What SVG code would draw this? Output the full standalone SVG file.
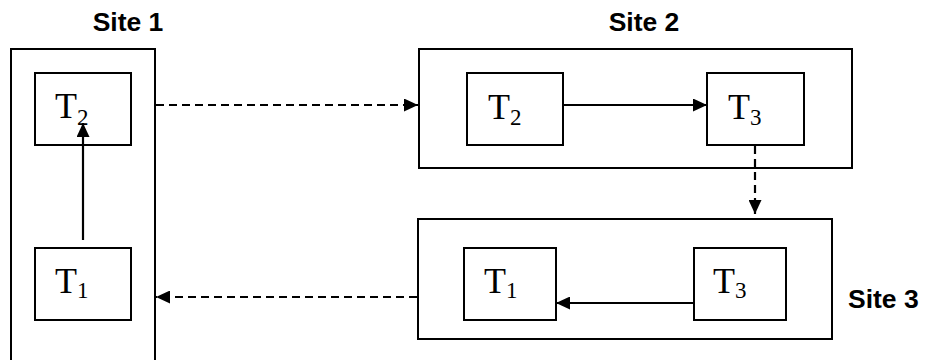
<svg xmlns="http://www.w3.org/2000/svg" width="946" height="360" viewBox="0 0 946 360">
<defs>
<style>
.box{fill:#fff;stroke:#000;stroke-width:2}
.conn{fill:none;stroke:#000;stroke-width:2.2}
.dash{stroke-dasharray:8 5}
.site{font-family:"Liberation Sans",Arial,sans-serif;font-weight:bold;font-size:26.5px;fill:#000}
.t{font-family:"Liberation Serif","Times New Roman",serif;font-size:36px;fill:#000}
.sub{font-size:23px}
</style>
<marker id="ah" viewBox="0 0 14 13" refX="14" refY="6.5" markerWidth="14" markerHeight="13" markerUnits="userSpaceOnUse" orient="auto">
<path d="M0,0 L14,6.5 L0,13 Z" fill="#000"/>
</marker>
</defs>
<rect width="946" height="360" fill="#fff"/>
<g id="site1">
<rect class="box" x="11" y="49" width="144" height="330"/>
<text class="site" x="128" y="31" text-anchor="middle">Site 1</text>
</g>
<g id="site2">
<rect class="box" x="419" y="49" width="433" height="119"/>
<text class="site" x="644" y="31" text-anchor="middle">Site 2</text>
</g>
<g id="site3">
<rect class="box" x="418" y="219" width="414" height="120"/>
<text class="site" x="848" y="308">Site 3</text>
</g>
<g id="s1-t2">
<rect class="box" x="35" y="73" width="96" height="72"/>
<text class="t" x="55" y="118">T<tspan class="sub" dy="7">2</tspan></text>
</g>
<g id="s1-t1">
<rect class="box" x="35" y="248" width="96" height="72"/>
<text class="t" x="55" y="293">T<tspan class="sub" dy="5">1</tspan></text>
</g>
<g id="s2-t2">
<rect class="box" x="467" y="73" width="96" height="72"/>
<text class="t" x="488" y="119">T<tspan class="sub" dy="6">2</tspan></text>
</g>
<g id="s2-t3">
<rect class="box" x="707" y="73" width="97" height="72"/>
<text class="t" x="728" y="119">T<tspan class="sub" dy="6">3</tspan></text>
</g>
<g id="s3-t1">
<rect class="box" x="464" y="248" width="92" height="72"/>
<text class="t" x="484" y="293">T<tspan class="sub" dy="5">1</tspan></text>
</g>
<g id="s3-t3">
<rect class="box" x="694" y="248" width="92" height="72"/>
<text class="t" x="713" y="293">T<tspan class="sub" dy="5">3</tspan></text>
</g>
<g id="connectors">
<line class="conn" x1="83" y1="240" x2="83" y2="123" marker-end="url(#ah)"/>
<line class="conn dash" x1="156" y1="105" x2="418" y2="105" marker-end="url(#ah)"/>
<line class="conn" x1="563" y1="105" x2="707" y2="105" marker-end="url(#ah)"/>
<line class="conn dash" x1="755" y1="146" x2="755" y2="214" marker-end="url(#ah)"/>
<line class="conn" x1="694" y1="303" x2="556" y2="303" marker-end="url(#ah)"/>
<line class="conn dash" x1="417" y1="297" x2="156" y2="297" marker-end="url(#ah)"/>
</g>
</svg>
